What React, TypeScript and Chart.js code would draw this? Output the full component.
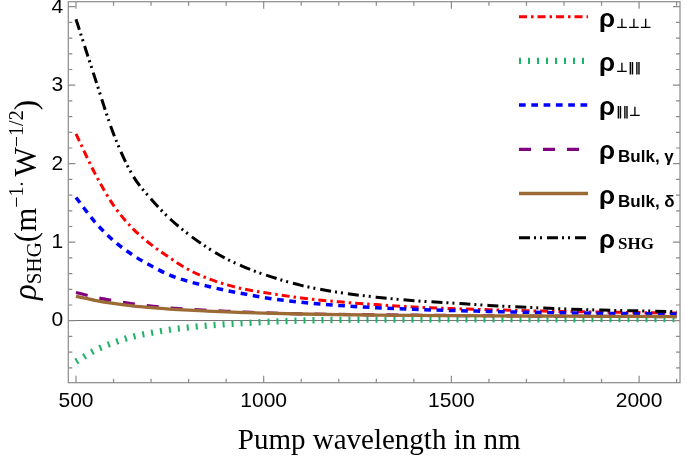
import React, { useEffect, useRef } from 'react';
import { Chart, registerables, Plugin } from 'chart.js';

Chart.register(...registerables);

// pump wavelength (nm)
const wavelengths = [500, 550, 600, 650, 700, 750, 800, 850, 900, 950, 1000, 1100, 1200, 1300, 1400, 1500, 1600, 1700, 1800, 1900, 2000, 2100];

// rho values
const rhoPerpPerpPerp = [2.38, 1.88, 1.47, 1.18, 0.97, 0.8, 0.65, 0.54, 0.46, 0.4, 0.36, 0.29, 0.24, 0.205, 0.175, 0.155, 0.14, 0.127, 0.117, 0.11, 0.103, 0.098];
const rhoPerpParPar = [-0.52, -0.38, -0.28, -0.205, -0.155, -0.115, -0.085, -0.063, -0.045, -0.03, -0.017, 0.002, 0.01, 0.013, 0.015, 0.016, 0.017, 0.018, 0.018, 0.019, 0.019, 0.019];
const rhoParParPerp = [1.57, 1.26, 1.02, 0.84, 0.7, 0.58, 0.5, 0.44, 0.385, 0.34, 0.295, 0.235, 0.195, 0.165, 0.145, 0.13, 0.118, 0.108, 0.1, 0.094, 0.089, 0.085];
const rhoBulkGamma = [0.36, 0.3, 0.255, 0.215, 0.185, 0.162, 0.145, 0.132, 0.12, 0.11, 0.1, 0.088, 0.08, 0.075, 0.07, 0.066, 0.063, 0.06, 0.058, 0.056, 0.054, 0.052];
const rhoBulkDelta = [0.31, 0.26, 0.22, 0.19, 0.167, 0.148, 0.134, 0.123, 0.113, 0.104, 0.096, 0.085, 0.077, 0.072, 0.068, 0.065, 0.062, 0.06, 0.058, 0.056, 0.054, 0.052];
const rhoSHG = [3.84, 3.1, 2.38, 1.86, 1.55, 1.3, 1.1, 0.93, 0.79, 0.68, 0.59, 0.45, 0.36, 0.3, 0.255, 0.225, 0.195, 0.17, 0.15, 0.135, 0.125, 0.115];

const legendSubscripts = ['⊥⊥⊥', '⊥‖‖', '‖‖⊥', 'Bulk, γ', 'Bulk, δ', 'SHG'];

const xMajorTicks = [500, 1000, 1500, 2000];
const xMinorTicks = [600, 700, 800, 900, 1100, 1200, 1300, 1400, 1600, 1700, 1800, 1900, 2100];
const yMajorTicks = [0, 1, 2, 3, 4];
const yMinorTicks = [-0.6, -0.4, -0.2, 0.2, 0.4, 0.6, 0.8, 1.2, 1.4, 1.6, 1.8, 2.2, 2.4, 2.6, 2.8, 3.2, 3.4, 3.6, 3.8];

const xTitle = 'Pump wavelength in nm';

type Seg = { t: string; f: string; dy: number };

const drawRich = (ctx: CanvasRenderingContext2D, segs: Seg[], x: number, y: number, measureOnly = false) => {
  let cx = x;
  segs.forEach((s) => {
    ctx.font = s.f;
    if (!measureOnly) ctx.fillText(s.t, cx, y + s.dy);
    cx += ctx.measureText(s.t).width;
  });
  return cx - x;
};

// frame with inward ticks, plus axis titles and legend
const framePlugin: Plugin = {
  id: 'frame',
  afterDraw(chart) {
    const { ctx, chartArea: a, scales } = chart;
    const xs = scales.x;
    const ys = scales.y;
    ctx.save();
    ctx.strokeStyle = '#8a8a8a';
    ctx.lineWidth = 1.2;
    ctx.setLineDash([]);
    ctx.strokeRect(a.left, a.top, a.right - a.left, a.bottom - a.top);

    const xTick = (v: number, len: number) => {
      const px = xs.getPixelForValue(v);
      ctx.beginPath();
      ctx.moveTo(px, a.bottom);
      ctx.lineTo(px, a.bottom - len);
      ctx.moveTo(px, a.top);
      ctx.lineTo(px, a.top + len);
      ctx.stroke();
    };
    const yTick = (v: number, len: number) => {
      const py = ys.getPixelForValue(v);
      ctx.beginPath();
      ctx.moveTo(a.left, py);
      ctx.lineTo(a.left + len, py);
      ctx.moveTo(a.right, py);
      ctx.lineTo(a.right - len, py);
      ctx.stroke();
    };
    xMajorTicks.forEach((v) => xTick(v, 7));
    xMinorTicks.forEach((v) => xTick(v, 4));
    yMajorTicks.forEach((v) => yTick(v, 7));
    yMinorTicks.forEach((v) => yTick(v, 4));

    // x title
    ctx.fillStyle = '#000';
    ctx.font = '29px "Liberation Serif"';
    ctx.textAlign = 'center';
    ctx.textBaseline = 'alphabetic';
    ctx.fillText(xTitle, (a.left + a.right) / 2 + 5, 449);

    // y title, rotated
    ctx.textAlign = 'left';
    const segs: Seg[] = [
      { t: 'ρ', f: 'italic 33px "Liberation Serif"', dy: 0 },
      { t: 'SHG', f: '21px "Liberation Serif"', dy: 5 },
      { t: '(m', f: '31px "Liberation Serif"', dy: 0 },
      { t: '−1', f: '20px "Liberation Serif"', dy: -13 },
      { t: '. ', f: '20px "Liberation Serif"', dy: -13 },
      { t: 'W', f: '31px "Liberation Serif"', dy: 0 },
      { t: '−1/2', f: '20px "Liberation Serif"', dy: -13 },
      { t: ')', f: '31px "Liberation Serif"', dy: 0 },
    ];
    ctx.save();
    ctx.translate(36, 200);
    ctx.rotate(-Math.PI / 2);
    const w = drawRich(ctx, segs, 0, 0, true);
    drawRich(ctx, segs, -w / 2, 0);
    ctx.restore();

    // legend
    const subFonts = [
      'bold 13px "DejaVu Sans"',
      'bold 13px "DejaVu Sans"',
      'bold 13px "DejaVu Sans"',
      'bold 17px "Liberation Sans"',
      'bold 17px "Liberation Sans"',
      'bold 17px "Liberation Serif"',
    ];
    chart.data.datasets.forEach((ds: any, i: number) => {
      const cy = a.top + 15 + i * 44.2;
      ctx.strokeStyle = ds.borderColor;
      ctx.lineWidth = ds.borderWidth;
      ctx.setLineDash(ds.borderDash || []);
      ctx.lineCap = 'butt';
      ctx.beginPath();
      ctx.moveTo(a.right - 161, cy);
      ctx.lineTo(a.right - 92, cy);
      ctx.stroke();
      ctx.setLineDash([]);
      ctx.fillStyle = '#000';
      ctx.font = 'bold 26px "Liberation Sans"';
      ctx.fillText('ρ', a.right - 81, cy + 10);
      const rw = ctx.measureText('ρ').width;
      ctx.font = subFonts[i];
      ctx.fillText(legendSubscripts[i], a.right - 81 + rw + (i >= 3 ? 3 : 1), cy + (i >= 3 && i < 5 ? 13 : 11));
    });
    ctx.restore();
  },
};

const series = [
  { data: rhoPerpPerpPerp, color: '#ff0000', width: 3, dash: [8, 4, 2.5, 4] },
  { data: rhoPerpParPar, color: '#1db366', width: 6.3, dash: [2, 7] },
  { data: rhoParParPerp, color: '#0000ff', width: 3.5, dash: [6.7, 5.6] },
  { data: rhoBulkGamma, color: '#800080', width: 3.2, dash: [12, 12] },
  { data: rhoBulkDelta, color: '#9c6b35', width: 3.3, dash: [] as number[] },
  { data: rhoSHG, color: '#000000', width: 3, dash: [11, 4, 2, 4, 2, 5] },
];

const App: React.FC = () => {
  const canvasRef = useRef<HTMLCanvasElement>(null);
  const chartRef = useRef<Chart | null>(null);

  useEffect(() => {
    document.body.style.margin = '0';
    if (!canvasRef.current) return;
    if (chartRef.current) chartRef.current.destroy();

    chartRef.current = new Chart(canvasRef.current, {
      type: 'line',
      data: {
        datasets: series.map((s, i) => ({
          label: legendSubscripts[i],
          data: wavelengths.map((w, j) => ({ x: w, y: s.data[j] })),
          borderColor: s.color,
          borderWidth: s.width,
          borderDash: s.dash,
          borderCapStyle: 'butt',
          pointRadius: 0,
          fill: false,
          cubicInterpolationMode: 'monotone',
          order: series.length - 1 - i,
        })),
      },
      options: {
        animation: false,
        responsive: true,
        maintainAspectRatio: false,
        layout: { padding: { top: 1.7, right: 5, left: 0, bottom: 0 } },
        plugins: { legend: { display: false }, tooltip: { enabled: false } },
        scales: {
          x: {
            type: 'linear',
            min: 479.5,
            max: 2109,
            grid: { display: false, drawTicks: false },
            border: { display: false },
            afterBuildTicks: (scale: any) => {
              scale.ticks = xMajorTicks.map((v) => ({ value: v }));
            },
            afterFit: (scale: any) => {
              scale.height = 75.3;
              scale.paddingLeft = 0;
              scale.paddingRight = 0;
            },
            ticks: {
              color: '#000',
              padding: 6,
              maxRotation: 0,
              callback: (v: any) => String(v),
              font: { family: 'Liberation Sans', size: 21 },
            },
          },
          y: {
            type: 'linear',
            min: -0.79,
            max: 4.064,
            grid: {
              drawTicks: false,
              color: (c: any) => (c.tick && c.tick.value === 0 ? '#777777' : 'rgba(0,0,0,0)'),
              lineWidth: 1,
            },
            border: { display: false },
            afterBuildTicks: (scale: any) => {
              scale.ticks = yMajorTicks.map((v) => ({ value: v }));
            },
            afterFit: (scale: any) => {
              scale.width = 68.3;
              scale.paddingTop = 0;
              scale.paddingBottom = 0;
            },
            ticks: {
              color: '#000',
              padding: 5,
              callback: (v: any) => String(v),
              font: { family: 'Liberation Sans', size: 21 },
            },
          },
        },
      } as any,
      plugins: [framePlugin],
    });

    return () => {
      if (chartRef.current) {
        chartRef.current.destroy();
        chartRef.current = null;
      }
    };
  }, []);

  return (
    <div style={{ width: 685, height: 458, position: 'relative', background: '#fff' }}>
      <canvas ref={canvasRef}></canvas>
    </div>
  );
};

export default App;
